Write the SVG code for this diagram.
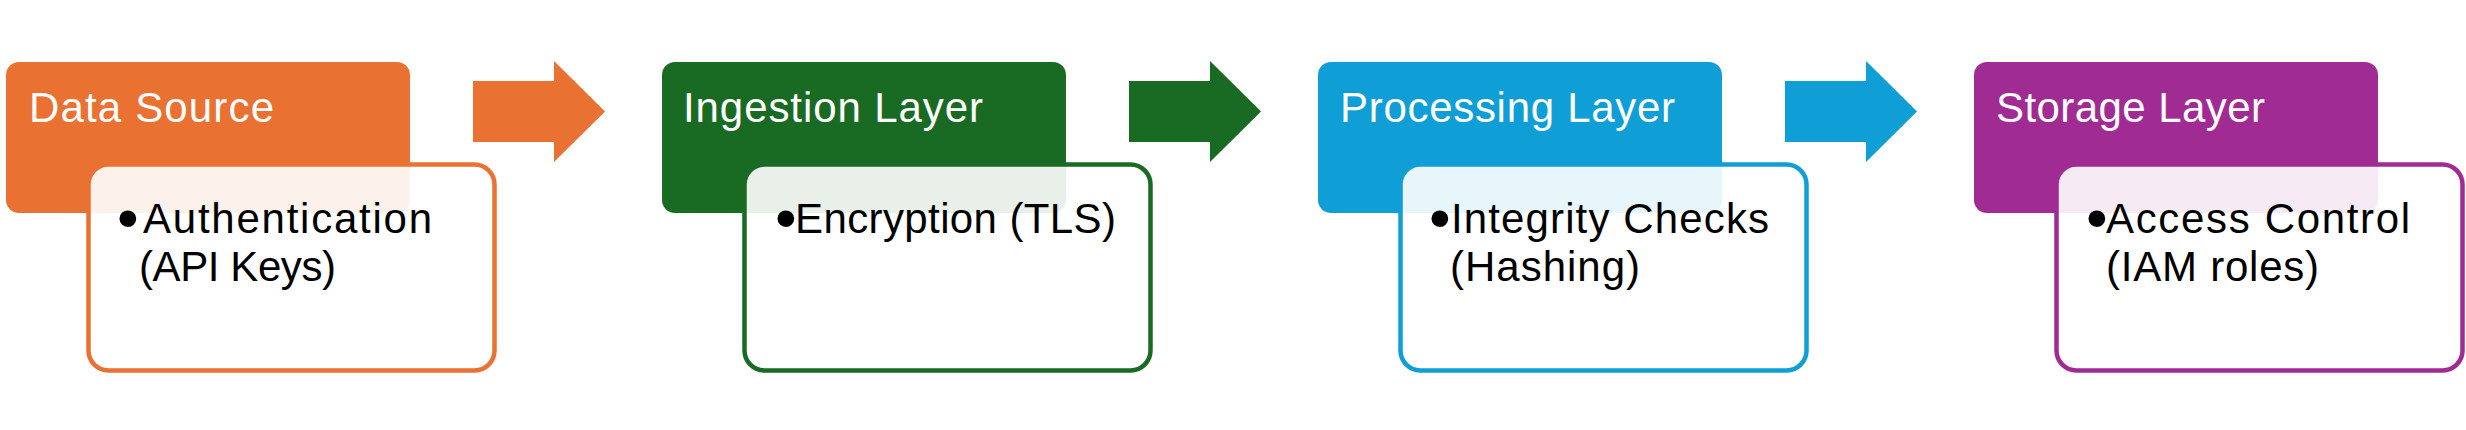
<svg xmlns="http://www.w3.org/2000/svg" width="2466" height="430" viewBox="0 0 2466 430">
<style>
  .hdr { stroke: none; }
  .det { fill: #ffffff; fill-opacity: 0.9; stroke-width: 4.5; }
  .htxt { font-family: "Liberation Sans", Arial, sans-serif; font-size: 42px; fill: #ffffff; }
  .dtxt { font-family: "Liberation Sans", Arial, sans-serif; font-size: 42px; fill: #000000; }
  .bul { font-size: 62px; }
</style>
<rect width="2466" height="430" fill="#ffffff"/>

<g id="node-data-source">
  <rect class="hdr" x="6" y="62" width="404" height="151" rx="13" fill="#E97132"/>
  <text class="htxt" x="29" y="122" textLength="245">Data Source</text>
  <rect class="det" x="88.5" y="164.5" width="406" height="206" rx="20" stroke="#E97132"/>
  <text class="dtxt" y="233"><tspan class="bul" x="117" y="239">•</tspan><tspan x="143" y="233" textLength="289">Authentication</tspan><tspan x="139" y="281" textLength="197">(API Keys)</tspan></text>
</g>

<g id="node-ingestion-layer">
  <rect class="hdr" x="662" y="62" width="404" height="151" rx="13" fill="#196B24"/>
  <text class="htxt" x="683" y="122" textLength="300">Ingestion Layer</text>
  <rect class="det" x="744.5" y="164.5" width="406" height="206" rx="20" stroke="#196B24"/>
  <text class="dtxt" y="233"><tspan class="bul" x="775" y="239">•</tspan><tspan x="795" y="233" textLength="321">Encryption (TLS)</tspan></text>
</g>

<g id="node-processing-layer">
  <rect class="hdr" x="1318" y="62" width="404" height="151" rx="13" fill="#0F9ED5"/>
  <text class="htxt" x="1340" y="122" textLength="335">Processing Layer</text>
  <rect class="det" x="1400.5" y="164.5" width="406" height="206" rx="20" stroke="#0F9ED5"/>
  <text class="dtxt" y="233"><tspan class="bul" x="1429" y="239">•</tspan><tspan x="1451" y="233" textLength="318">Integrity Checks</tspan><tspan x="1450" y="281" textLength="190">(Hashing)</tspan></text>
</g>

<g id="node-storage-layer">
  <rect class="hdr" x="1974" y="62" width="404" height="151" rx="13" fill="#A02B93"/>
  <text class="htxt" x="1996" y="122" textLength="269">Storage Layer</text>
  <rect class="det" x="2056.5" y="164.5" width="406" height="206" rx="20" stroke="#A02B93"/>
  <text class="dtxt" y="233"><tspan class="bul" x="2086" y="239">•</tspan><tspan x="2106" y="233" textLength="304">Access Control</tspan><tspan x="2106" y="281" textLength="213">(IAM roles)</tspan></text>
</g>

<g id="connectors">
  <polygon points="473,81 554,81 554,61 605,111.5 554,162 554,142 473,142" fill="#E97132"/>
  <polygon points="1129,81 1210,81 1210,61 1261,111.5 1210,162 1210,142 1129,142" fill="#196B24"/>
  <polygon points="1785,81 1866,81 1866,61 1917,111.5 1866,162 1866,142 1785,142" fill="#0F9ED5"/>
</g>
</svg>
